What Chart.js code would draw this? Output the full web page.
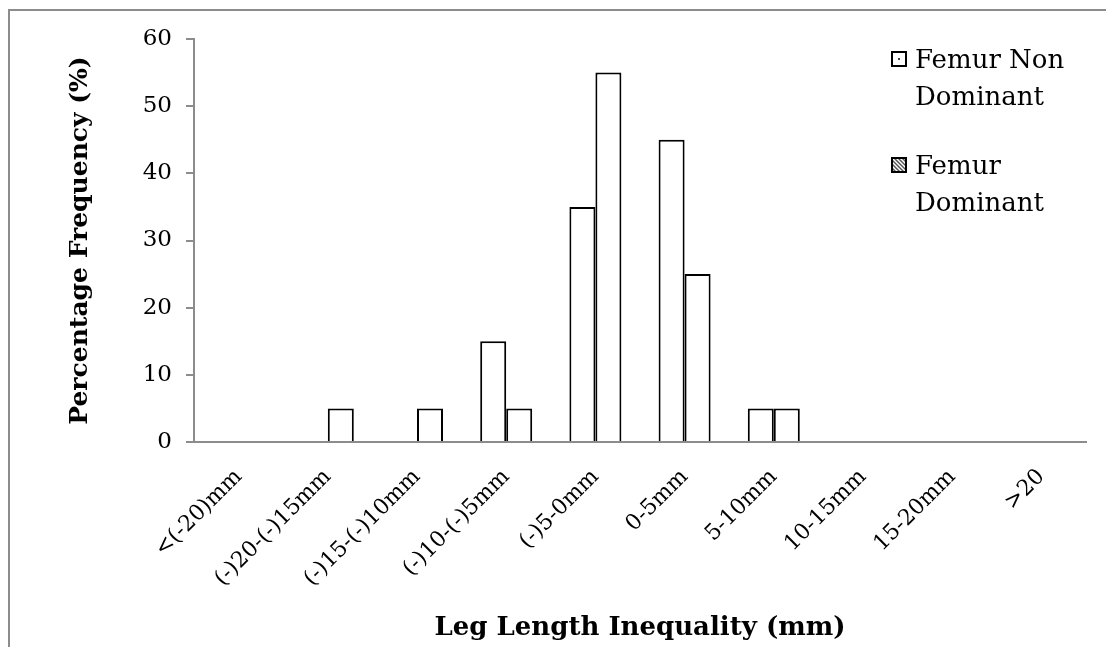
<!DOCTYPE html>
<html>
<head>
<meta charset="utf-8">
<script src="https://cdn.jsdelivr.net/npm/chart.js@4.4.0/dist/chart.umd.min.js"></script>
<style>
  html, body { margin: 0; padding: 0; background: #fff; }
  #wrap { position: relative; width: 1106px; height: 647px; }
  #frame { position: absolute; left: 8px; top: 9px; right: -4px; bottom: -4px; border-left: 2px solid #8c8c8c; border-top: 2px solid #8c8c8c; pointer-events: none; }
</style>
</head>
<body>
<div id="wrap">
  <canvas id="chart" width="1106" height="647"></canvas>
  <div id="frame"></div>
</div>
<script>
// ── Data ───────────────────────────────────────────────────────
const categories = ['<(-20)mm', '(-)20-(-)15mm', '(-)15-(-)10mm', '(-)10-(-)5mm', '(-)5-0mm',
  '0-5mm', '5-10mm', '10-15mm', '15-20mm', '>20'];
const nonDominant = [0, 0, 0, 15, 35, 45, 5, 0, 0, 0];
const dominant = [0, 5, 5, 5, 55, 25, 5, 0, 0, 0];
const seriesLabels = [['Femur Non', 'Dominant'], ['Femur', 'Dominant']];

const FONT = "'DejaVu Serif', serif";

// ── Legend drawn inside plot, top right ───────────────────────
function drawMarker(ctx, x, y, s, kind) {
  ctx.save();
  ctx.fillStyle = '#fff';
  ctx.fillRect(x, y, s, s);
  if (kind === 0) {
    ctx.fillStyle = '#444';
    ctx.fillRect(x + s / 2 - 1, y + s / 2 - 1, 2, 2);
  } else {
    ctx.beginPath();
    ctx.rect(x, y, s, s);
    ctx.clip();
    ctx.strokeStyle = '#555';
    ctx.lineWidth = 1.5;
    for (let d = -s; d <= s; d += 4) {
      ctx.beginPath();
      ctx.moveTo(x + d, y);
      ctx.lineTo(x + d + s, y + s);
      ctx.stroke();
    }
  }
  ctx.restore();
  ctx.strokeStyle = '#000';
  ctx.lineWidth = 2;
  ctx.strokeRect(x, y, s, s);
}

const boxLegend = {
  id: 'boxLegend',
  afterDraw(chart) {
    const ctx = chart.ctx;
    const tops = [52, 158];
    ctx.save();
    ctx.font = '26px ' + FONT;
    ctx.fillStyle = '#000';
    ctx.textBaseline = 'alphabetic';
    chart.data.datasets.forEach((ds, i) => {
      drawMarker(ctx, 892, tops[i], 14, i);
      ds.label.forEach((line, j) => {
        ctx.fillText(line, 915, tops[i] + 16 + j * 37);
      });
    });
    ctx.restore();
  }
};

new Chart(document.getElementById('chart'), {
  type: 'bar',
  data: {
    labels: categories,
    datasets: [
      { label: seriesLabels[0], data: nonDominant, backgroundColor: '#fff', borderColor: '#000', borderWidth: 2 },
      { label: seriesLabels[1], data: dominant, backgroundColor: '#fff', borderColor: '#000', borderWidth: 2 }
    ]
  },
  options: {
    responsive: false, animation: false,
    layout: { padding: { left: 0, top: 39, right: 20, bottom: 0 } },
    datasets: { bar: { categoryPercentage: 0.583, barPercentage: 1 } },
    plugins: { legend: { display: false }, tooltip: { enabled: false } },
    scales: {
      x: {
        grid: { display: false },
        border: { color: '#8c8c8c', width: 2 },
        ticks: { color: '#000', font: { family: FONT, size: 22 }, maxRotation: 45, minRotation: 45, padding: 14 },
        title: { display: true, text: 'Leg Length Inequality (mm)', color: '#000', font: { family: FONT, size: 26, weight: 'bold' }, padding: { bottom: 3 } },
        afterFit: s => { s.height = 205; }
      },
      y: {
        min: 0, max: 60,
        grid: { drawOnChartArea: false, drawTicks: true, tickLength: 8, color: '#8c8c8c', lineWidth: 2 },
        border: { color: '#8c8c8c', width: 2 },
        ticks: { stepSize: 10, color: '#000', font: { family: FONT, size: 23 }, padding: 14 },
        title: { display: true, text: 'Percentage Frequency (%)', color: '#000', font: { family: FONT, size: 25, weight: 'bold' }, padding: { top: 65 } },
        afterFit: s => { s.width = 194; }
      }
    }
  },
  plugins: [boxLegend]
});
</script>
</body>
</html>
